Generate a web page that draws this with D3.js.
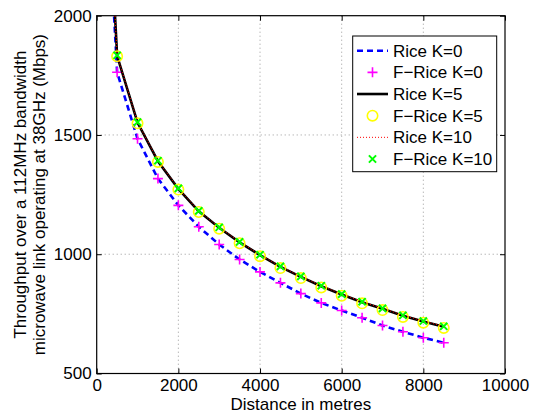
<!DOCTYPE html>
<html><head><meta charset="utf-8">
<script src="https://cdn.jsdelivr.net/npm/d3@7"></script>
<style>body{margin:0;background:#fff}svg{display:block}text{font-family:"Liberation Sans",Arial,sans-serif}</style>
</head><body><svg id="c" width="538" height="414"></svg>
<script>
// ---- data ----
const distances = [500,1000,1500,2000,2500,3000,3500,4000,4500,5000,5500,6000,6500,7000,7500,8000,8500];
const lineDistances = [400].concat(distances);
const riceK0 = [2080,1763,1484,1317,1205,1115,1041,978,926,880,835,796,764,734,701,675,650,629];
const fRiceK0 = [1763,1484,1317,1205,1115,1041,978,926,880,835,796,764,734,701,675,650,629];
const riceK5 = [2160,1832,1552,1390,1274,1180,1111,1050,996,947,905,866,831,799,771,742,718,696];
const fRiceK5 = [1830,1549,1387,1271,1177,1107,1046,992,942,900,861,826,794,766,737,713,691];
const riceK10 = [2162,1834,1554,1392,1276,1182,1113,1052,998,949,907,868,833,801,773,744,720,698];
const fRiceK10 = [1834,1554,1392,1276,1182,1113,1052,998,949,907,868,833,801,773,744,720,698];
const xTicks = [0,2000,4000,6000,8000,10000];
const yTicks = [500,1000,1500,2000];
const legendLabels = ["Rice K=0","F\u2212Rice K=0","Rice K=5","F\u2212Rice K=5","Rice K=10","F\u2212Rice K=10"];
const xLabel = "Distance in metres";
const yLabelLines = ["Throughput over a 112MHz bandwidth","microwave link operating at 38GHz (Mbps)"];

// ---- layout ----
const svg = d3.select("#c");
const L=96.7, R=505, T=15.7, B=373.5;
const x = d3.scaleLinear().domain([0,10000]).range([L,R]);
const y = d3.scaleLinear().domain([500,2000]).range([B,T]);
const FS = 17;

svg.append("defs").append("clipPath").attr("id","clip")
  .append("rect").attr("x",L).attr("y",T).attr("width",R-L).attr("height",B-T);

// grid
const grid = svg.append("g");
xTicks.filter(d=>d>0&&d<10000).forEach(d=>{
  grid.append("line").attr("x1",x(d)).attr("x2",x(d)).attr("y1",T).attr("y2",B)
    .attr("stroke","#999").attr("stroke-width",1).attr("stroke-dasharray","1,3");
});
yTicks.filter(d=>d>500&&d<2000).forEach(d=>{
  grid.append("line").attr("x1",L).attr("x2",R).attr("y1",y(d)).attr("y2",y(d))
    .attr("stroke","#999").attr("stroke-width",1).attr("stroke-dasharray","1,3");
});

// axes (inward ticks on all sides)
const ax = svg.append("g");
ax.append("g").attr("transform",`translate(0,${B})`)
  .call(d3.axisBottom(x).tickValues(xTicks).tickSize(-5).tickPadding(5).tickFormat(d3.format("d")));
ax.append("g").attr("transform",`translate(0,${T})`)
  .call(d3.axisTop(x).tickValues(xTicks).tickSize(-5).tickFormat(""));
ax.append("g").attr("transform",`translate(${L},0)`)
  .call(d3.axisLeft(y).tickValues(yTicks).tickSize(-5).tickPadding(5).tickFormat(d3.format("d")));
ax.append("g").attr("transform",`translate(${R},0)`)
  .call(d3.axisRight(y).tickValues(yTicks).tickSize(-5).tickFormat(""));
ax.selectAll(".domain").remove();
ax.selectAll("line").attr("stroke","#000");
ax.selectAll("text").attr("font-size",FS).attr("fill","#000")
  .attr("font-family","Liberation Sans, Arial, sans-serif");
svg.append("rect").attr("x",L).attr("y",T).attr("width",R-L).attr("height",B-T)
  .attr("fill","none").attr("stroke","#000").attr("stroke-width",1.2);

// series
const plot = svg.append("g").attr("clip-path","url(#clip)");
const line = d3.line().x((d,i)=>x(lineDistances[i])).y(d=>y(d));

function plus(g,cx,cy,col){
  g.append("path").attr("d",`M${cx-5},${cy}H${cx+5}M${cx},${cy-5}V${cy+5}`)
   .attr("stroke",col).attr("stroke-width",1.6).attr("fill","none");
}
function circ(g,cx,cy,col){
  g.append("circle").attr("cx",cx).attr("cy",cy).attr("r",5.2)
   .attr("fill","none").attr("stroke",col).attr("stroke-width",1.6);
}
function cross(g,cx,cy,col){
  g.append("path").attr("d",`M${cx-3.6},${cy-3.6}L${cx+3.6},${cy+3.6}M${cx-3.6},${cy+3.6}L${cx+3.6},${cy-3.6}`)
   .attr("stroke",col).attr("stroke-width",2).attr("fill","none");
}

plot.append("path").datum(riceK0).attr("d",line).attr("fill","none")
  .attr("stroke","#0000ff").attr("stroke-width",2.6).attr("stroke-dasharray","6,4");
fRiceK0.forEach((v,i)=>plus(plot,x(distances[i]),y(v),"#ff00ff"));
plot.append("path").datum(riceK5).attr("d",line).attr("fill","none")
  .attr("stroke","#000").attr("stroke-width",2.6);
fRiceK5.forEach((v,i)=>circ(plot,x(distances[i]),y(v),"#ffff00"));
plot.append("path").datum(riceK10).attr("d",line).attr("fill","none")
  .attr("stroke","#ff0000").attr("stroke-width",1).attr("stroke-dasharray","1,2");
fRiceK10.forEach((v,i)=>cross(plot,x(distances[i]),y(v),"#00ff00"));

// legend
const lg = svg.append("g");
const lx0=352.7, ly0=36, lw=144, lh=135.7;
lg.append("rect").attr("x",lx0).attr("y",ly0).attr("width",lw).attr("height",lh)
  .attr("fill","#fff").attr("stroke","#000").attr("stroke-width",1);
const rowY = d3.scaleLinear().domain([0,5]).range([50.7,159]);
const sx1=357, sx2=388, sm=372.5, tx=393;
legendLabels.forEach((lab,i)=>{
  const yy=rowY(i);
  if(i===0) lg.append("line").attr("x1",sx1).attr("x2",sx2).attr("y1",yy).attr("y2",yy)
     .attr("stroke","#0000ff").attr("stroke-width",2.6).attr("stroke-dasharray","6,4");
  if(i===1) plus(lg,sm,yy,"#ff00ff");
  if(i===2) lg.append("line").attr("x1",sx1).attr("x2",sx2).attr("y1",yy).attr("y2",yy)
     .attr("stroke","#000").attr("stroke-width",2.6);
  if(i===3) circ(lg,sm,yy,"#ffff00");
  if(i===4) lg.append("line").attr("x1",sx1).attr("x2",sx2).attr("y1",yy).attr("y2",yy)
     .attr("stroke","#ff0000").attr("stroke-width",1).attr("stroke-dasharray","1,2");
  if(i===5) cross(lg,sm,yy,"#00ff00");
  lg.append("text").attr("x",tx).attr("y",yy).attr("dy","0.35em")
    .attr("font-size",FS).attr("fill","#000").text(lab);
});

// axis labels
svg.append("text").attr("x",(L+R)/2).attr("y",410).attr("text-anchor","middle")
  .attr("font-size",FS).attr("fill","#000").text(xLabel);
const ylab = svg.append("text").attr("transform",`translate(26,${(T+B)/2}) rotate(-90)`)
  .attr("text-anchor","middle").attr("font-size",FS).attr("fill","#000");
ylab.append("tspan").attr("x",0).attr("y",0).text(yLabelLines[0]);
ylab.append("tspan").attr("x",0).attr("y",19).text(yLabelLines[1]);
</script></body></html>
